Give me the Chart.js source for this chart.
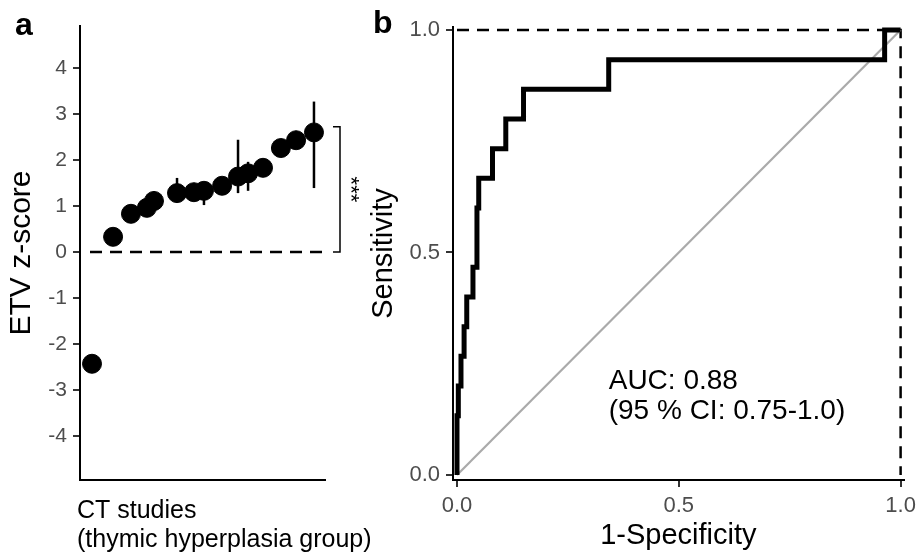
<!DOCTYPE html>
<html>
<head>
<meta charset="utf-8">
<script src="https://cdn.jsdelivr.net/npm/chart.js@4.4.1/dist/chart.umd.min.js"></script>
<style>
  body { margin: 0; background: #fff; }
  #wrap { position: relative; width: 922px; height: 558px; }
  canvas { position: absolute; top: 0; }
  #chartA { left: 0; }
  #chartB { left: 365px; }
</style>
</head>
<body>
<div id="wrap">
  <canvas id="chartA" width="385" height="558"></canvas>
  <canvas id="chartB" width="557" height="558"></canvas>
</div>
<script>
// Panel a: ETV z-scores of CT studies (x = position along the axis, 0-100)
const studyX = [4.9, 13.5, 20.8, 27.3, 30.2, 39.6, 46.5, 50.6, 58.0, 64.5, 68.6, 74.7, 82.0, 88.2, 95.5];
const zScore = [-2.43, 0.33, 0.83, 0.96, 1.11, 1.28, 1.30, 1.33, 1.44, 1.64, 1.71, 1.83, 2.26, 2.43, 2.60];
const zLow   = [-2.43, 0.33, 0.83, 0.78, 1.11, 1.10, 1.30, 1.02, 1.44, 1.28, 1.33, 1.83, 2.26, 2.43, 1.39];
const zHigh  = [-2.43, 0.33, 0.83, 1.00, 1.11, 1.61, 1.30, 1.50, 1.44, 2.44, 1.96, 1.83, 2.26, 2.43, 3.27];
const zTicks = [-4, -3, -2, -1, 0, 1, 2, 3, 4];
const bracketTop = 2.72;
const xTitleA = ["CT studies", "(thymic hyperplasia group)"];

// Panel b: ROC curve
const rocFpr = [0, 0.003, 0.009, 0.016, 0.022, 0.036, 0.045, 0.049, 0.08, 0.11, 0.15, 0.342, 0.964, 1];
const rocTpr = [0, 0.133, 0.2, 0.267, 0.333, 0.4, 0.467, 0.6, 0.667, 0.733, 0.8, 0.867, 0.933, 1];
const perfectFpr = [0, 1, 1];
const perfectTpr = [1, 1, 0];
const chanceFpr = [0, 1];
const chanceTpr = [0, 1];
const rocTicks = [0, 0.5, 1];
const aucLines = ["AUC: 0.88", "(95 % CI: 0.75-1.0)"];

const FONT = '"Liberation Sans", Arial, Helvetica, sans-serif';
Chart.defaults.font.family = FONT;
Chart.defaults.color = "#000";

const toPoints = (xs, ys) => xs.map((x, i) => ({ x: x, y: ys[i] }));

// extras for panel a: zero line, error bars, bracket, x title, label
const panelAExtras = {
  id: "panelAExtras",
  beforeDatasetsDraw(chart) {
    const { ctx, chartArea, scales: { x, y } } = chart;
    ctx.save();
    ctx.strokeStyle = "#000";
    ctx.lineWidth = 2.5;
    ctx.setLineDash([12, 8]);
    ctx.beginPath();
    ctx.moveTo(x.getPixelForValue(studyX[0]) - 2, y.getPixelForValue(0));
    ctx.lineTo(chartArea.right, y.getPixelForValue(0));
    ctx.stroke();
    ctx.setLineDash([]);
    studyX.forEach((sx, i) => {
      if (zHigh[i] - zLow[i] <= 0) return;
      const px = x.getPixelForValue(sx);
      ctx.beginPath();
      ctx.moveTo(px, y.getPixelForValue(zLow[i]));
      ctx.lineTo(px, y.getPixelForValue(zHigh[i]));
      ctx.stroke();
    });
    ctx.restore();
  },
  afterDraw(chart) {
    const { ctx, chartArea, scales: { y } } = chart;
    const bx = chartArea.right + 15;
    const y0 = y.getPixelForValue(0);
    const y1 = y.getPixelForValue(bracketTop);
    ctx.save();
    ctx.strokeStyle = "#000";
    ctx.lineWidth = 1.5;
    ctx.beginPath();
    ctx.moveTo(bx - 7, y1);
    ctx.lineTo(bx, y1);
    ctx.lineTo(bx, y0);
    ctx.lineTo(bx - 7, y0);
    ctx.stroke();
    ctx.fillStyle = "#000";
    ctx.font = "22px " + FONT;
    ctx.textAlign = "center";
    ctx.textBaseline = "middle";
    ctx.translate(bx + 10, (y0 + y1) / 2);
    ctx.rotate(Math.PI / 2);
    ctx.fillText("***", 0, 0);
    ctx.restore();

    // x axis title, left aligned under the axis
    ctx.save();
    ctx.fillStyle = "#000";
    ctx.font = "25px " + FONT;
    ctx.textAlign = "left";
    ctx.textBaseline = "middle";
    xTitleA.forEach((line, i) => ctx.fillText(line, chartArea.left - 3, chartArea.bottom + 31 + i * 29));
    ctx.font = "bold 32px " + FONT;
    ctx.textBaseline = "alphabetic";
    ctx.fillText("a", 15, 35);
    ctx.restore();
  }
};

// extras for panel b: AUC text, label
const panelBExtras = {
  id: "panelBExtras",
  afterDraw(chart) {
    const { ctx, scales: { x, y } } = chart;
    ctx.save();
    ctx.fillStyle = "#000";
    ctx.font = "28px " + FONT;
    ctx.textAlign = "left";
    ctx.textBaseline = "middle";
    const tx = x.getPixelForValue(0.342);
    const ty = y.getPixelForValue(0.21);
    aucLines.forEach((line, i) => ctx.fillText(line, tx, ty + i * 30));
    ctx.font = "bold 32px " + FONT;
    ctx.textBaseline = "alphabetic";
    ctx.fillText("b", 8, 33);
    ctx.restore();
  }
};

const tickStyle = (size) => ({ color: "#4d4d4d", font: { size: size }, padding: 6 });
const tickGrid = { drawOnChartArea: false, tickLength: 7, tickColor: "#333", lineWidth: 2 };
const axisBorder = { display: true, color: "#000", width: 2 };

new Chart(document.getElementById("chartA"), {
  type: "scatter",
  data: {
    datasets: [{
      data: toPoints(studyX, zScore),
      backgroundColor: "#000",
      borderColor: "#000",
      pointRadius: 9.5,
      pointHoverRadius: 9.5,
    }],
  },
  options: {
    responsive: false,
    animation: false,
    layout: { padding: { left: 0, top: 26, right: 60, bottom: 0 } },
    plugins: { legend: { display: false }, tooltip: { enabled: false } },
    scales: {
      x: {
        type: "linear",
        min: 0,
        max: 100,
        ticks: { display: false },
        grid: { display: false },
        border: axisBorder,
        afterFit: (s) => { s.height = 78; },
      },
      y: {
        type: "linear",
        min: -4.957,
        max: 4.913,
        afterBuildTicks: (s) => { s.ticks = zTicks.map((v) => ({ value: v })); },
        ticks: tickStyle(21),
        grid: tickGrid,
        border: axisBorder,
        title: {
          display: true,
          text: "ETV z-score",
          color: "#000",
          font: { size: 30 },
          padding: { top: 4, bottom: 0 },
        },
        afterFit: (s) => { s.width = 80; },
      },
    },
  },
  plugins: [panelAExtras],
});

new Chart(document.getElementById("chartB"), {
  type: "scatter",
  data: {
    datasets: [
      {
        data: toPoints(rocFpr, rocTpr),
        showLine: true,
        stepped: "after",
        borderColor: "#000",
        borderWidth: 5,
        pointRadius: 0,
      },
      {
        data: toPoints(chanceFpr, chanceTpr),
        showLine: true,
        borderColor: "#aaaaaa",
        borderWidth: 2.2,
        pointRadius: 0,
      },
      {
        data: toPoints(perfectFpr, perfectTpr),
        showLine: true,
        borderColor: "#000",
        borderWidth: 2.5,
        borderDash: [12, 8],
        pointRadius: 0,
      },
    ],
  },
  options: {
    responsive: false,
    animation: false,
    layout: { padding: { left: 0, top: 27, right: 15, bottom: 0 } },
    plugins: { legend: { display: false }, tooltip: { enabled: false } },
    scales: {
      x: {
        type: "linear",
        min: -0.009,
        max: 1.007,
        afterBuildTicks: (s) => { s.ticks = rocTicks.map((v) => ({ value: v })); },
        ticks: { ...tickStyle(22), callback: (v) => v.toFixed(1) },
        grid: tickGrid,
        border: axisBorder,
        title: {
          display: true,
          text: "1-Specificity",
          color: "#000",
          font: { size: 29 },
          padding: { top: 0, bottom: 5 },
        },
        afterFit: (s) => { s.height = 78; },
      },
      y: {
        type: "linear",
        min: -0.0112,
        max: 1.0067,
        afterBuildTicks: (s) => { s.ticks = rocTicks.map((v) => ({ value: v })); },
        ticks: { ...tickStyle(22), callback: (v) => v.toFixed(1) },
        grid: tickGrid,
        border: axisBorder,
        title: {
          display: true,
          text: "Sensitivity",
          color: "#000",
          font: { size: 29 },
          padding: { top: 2, bottom: 0 },
        },
        afterFit: (s) => { s.width = 88; },
      },
    },
  },
  plugins: [panelBExtras],
});
</script>
</body>
</html>
